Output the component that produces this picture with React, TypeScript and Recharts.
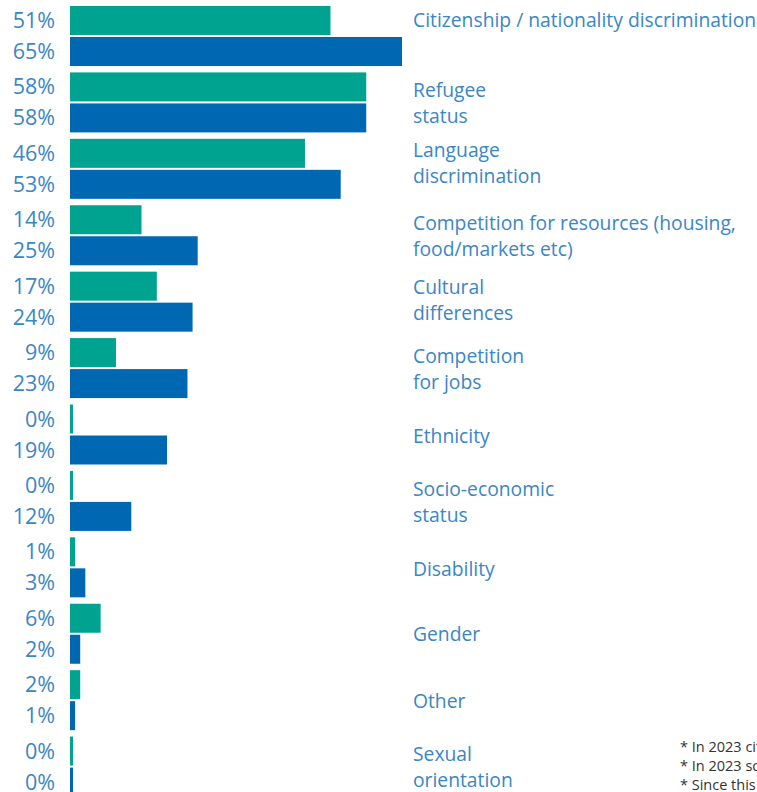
import { Bar, BarChart, LabelList, XAxis, YAxis } from "recharts";

const categories = [
  "Citizenship / nationality discrimination",
  "Refugee status",
  "Language discrimination",
  "Competition for resources (housing, food/markets etc)",
  "Cultural differences",
  "Competition for jobs",
  "Ethnicity",
  "Socio-economic status",
  "Disability",
  "Gender",
  "Other",
  "Sexual orientation",
];

// how each category label wraps on the right side
const labelLines = [
  ["Citizenship / nationality discrimination"],
  ["Refugee", "status"],
  ["Language", "discrimination"],
  ["Competition for resources (housing,", "food/markets etc)"],
  ["Cultural", "differences"],
  ["Competition", "for jobs"],
  ["Ethnicity"],
  ["Socio-economic", "status"],
  ["Disability"],
  ["Gender"],
  ["Other"],
  ["Sexual", "orientation"],
];

const values2022 = [51, 58, 46, 14, 17, 9, 0, 0, 1, 6, 2, 0];
const values2023 = [65, 58, 53, 25, 24, 23, 19, 12, 3, 2, 1, 0];

const footnotes = [
  "* In 2023 citizenship / nationality discrimination was added",
  "* In 2023 socio-economic status was added",
  "* Since this question allowed multiple answers",
];

const GREEN = "#00a390";
const BLUE = "#0068b3";
const TEXT = "#3a86c6";
const FONT = "'Open Sans', sans-serif";

const data = categories.map((name, i) => ({
  name,
  idx: i,
  a: values2022[i],
  b: values2023[i],
}));

// nudges for labels that do not sit at the band centre
const labelShift: Record<number, number> = { 0: -17, 2: -7, 4: -2, 6: 1, 8: 1 };

function CategoryTick(props: any) {
  const { y, index } = props;
  const lines = labelLines[index] || [];
  const lh = 26;
  const startY = y - ((lines.length - 1) * lh) / 2 + (labelShift[index] || 0);
  return (
    <text fill={TEXT} fontFamily={FONT} fontSize={19.3}>
      {lines.map((l, i) => (
        <tspan key={i} x={413} y={startY + i * lh} dominantBaseline="central">
          {l}
        </tspan>
      ))}
    </text>
  );
}

function MinBar(props: any) {
  const { x, y, width, height, fill } = props;
  return <rect x={x} y={y} width={Math.max(width, 3)} height={height} fill={fill} />;
}

function PctLabel(props: any) {
  const { x, y, height, value } = props;
  return (
    <text
      x={x - 15}
      y={y + height / 2 - 1}
      textAnchor="end"
      dominantBaseline="central"
      fill={TEXT}
      fontFamily={FONT}
      fontSize={21.5}
    >
      {value}%
    </text>
  );
}

export default function App() {
  return (
    <div
      style={{
        position: "fixed",
        top: 0,
        left: 0,
        width: 757,
        height: 792,
        overflow: "hidden",
        background: "#fff",
      }}
    >
      <BarChart
        width={757}
        height={800}
        data={data}
        layout="vertical"
        margin={{ top: 3, right: 0, left: 70, bottom: 0 }}
        barSize={29}
        barGap={2}
      >
        <XAxis type="number" domain={[0, 65]} hide />
        <YAxis
          type="category"
          dataKey="name"
          orientation="right"
          width={355}
          axisLine={false}
          tickLine={false}
          interval={0}
          tick={<CategoryTick />}
        />
        <Bar dataKey="a" fill={GREEN} shape={<MinBar />} isAnimationActive={false}>
          <LabelList dataKey="a" content={<PctLabel />} />
        </Bar>
        <Bar dataKey="b" fill={BLUE} shape={<MinBar />} isAnimationActive={false}>
          <LabelList dataKey="b" content={<PctLabel />} />
        </Bar>
      </BarChart>
      <div
        style={{
          position: "absolute",
          left: 680,
          top: 737,
          fontFamily: FONT,
          fontSize: 14.5,
          lineHeight: "19px",
          color: "#333",
          whiteSpace: "nowrap",
        }}
      >
        {footnotes.map((f, i) => (
          <div key={i}>{f}</div>
        ))}
      </div>
    </div>
  );
}
